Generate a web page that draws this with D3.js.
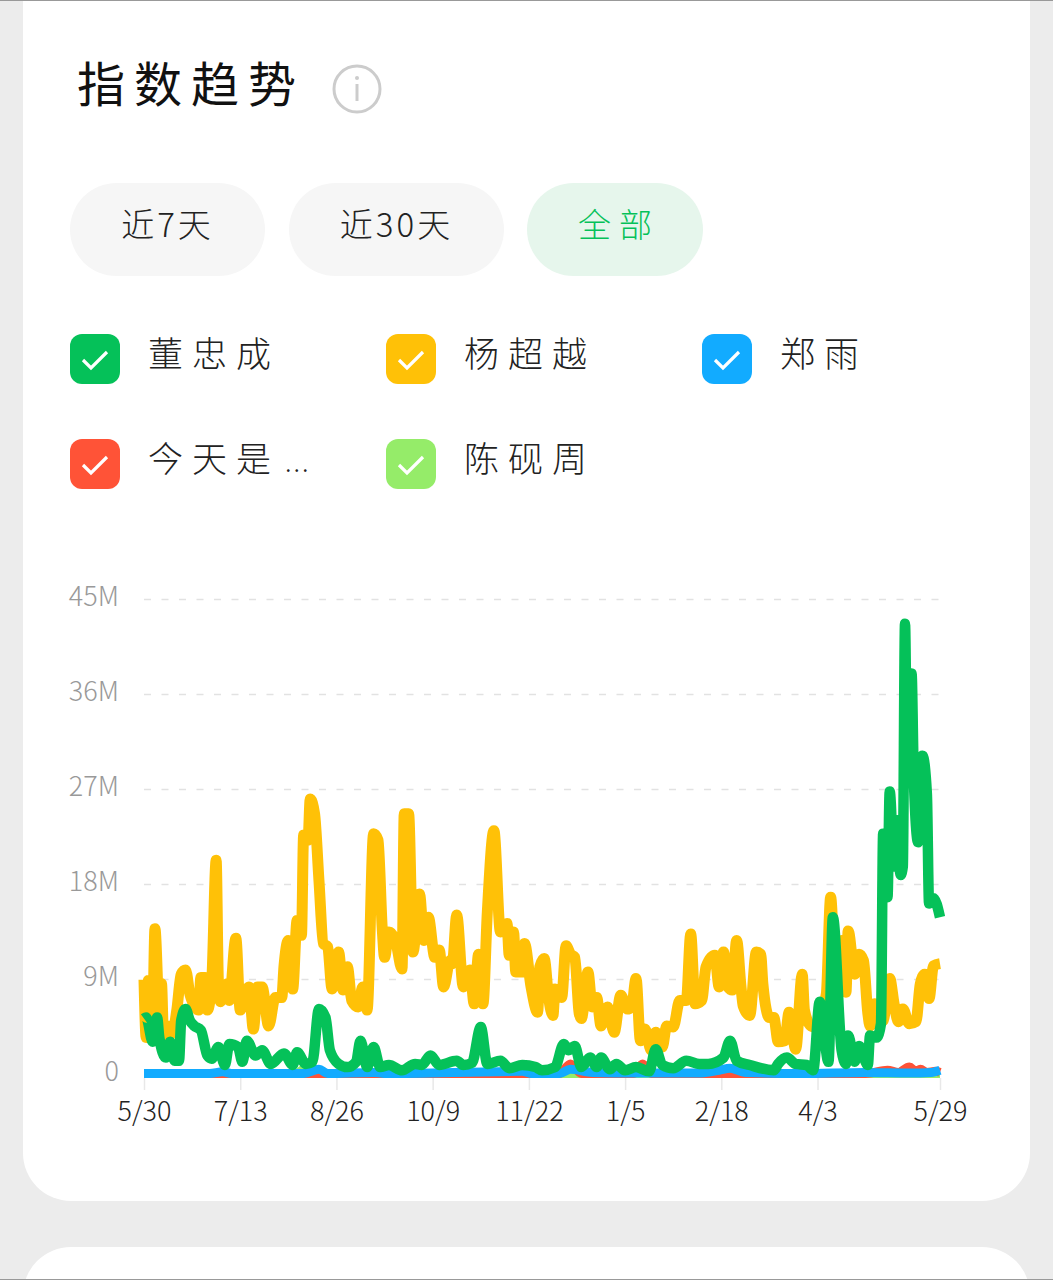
<!DOCTYPE html>
<html lang="zh">
<head>
<meta charset="utf-8">
<script src="https://cdn.jsdelivr.net/npm/d3@7/dist/d3.min.js"></script>
<style>
  html, body { margin: 0; padding: 0; background: #ececec; }
  svg { display: block; }
  text { font-family: "Noto Sans CJK SC", "Noto Sans", sans-serif; }
</style>
</head>
<body>
<svg id="page" width="1053" height="1280"></svg>
<script>
// Search-index trend card: five people, one year of daily readings in millions.
const title = "指数趋势";
const rangeButtons = ["近7天", "近30天", "全部"];
const names = ["董忠成", "杨超越", "郑雨", "今天是", "陈砚周"];
const truncated = [false, false, false, true, false];
const colors = ["#05C159", "#FFC107", "#12ABFF", "#FF5337", "#95EC69"];

const yTicks = [0, 9, 18, 27, 36, 45];
const yTickLabels = ["0", "9M", "18M", "27M", "36M", "45M"];
const xTicks = [0, 44, 88, 132, 176, 220, 264, 308, 364];
const xTickLabels = ["5/30", "7/13", "8/26", "10/9", "11/22", "1/5", "2/18", "4/3", "5/29"];

const dongDays = [0,1,4,6,7,10,12,14,16,17,19,21,23,26,29,31,34,37,39,43,45,47,51,54,58,64,68,70,74,77,80,83,85,89,93,97,99,102,105,108,112,118,124,127,131,135,143,146,150,154,157,163,167,173,179,182,188,192,194,197,200,204,207,209,213,216,220,225,231,234,237,242,248,254,258,265,268,271,277,288,290,294,298,303,306,309,313,315,319,321,322,325,327,331,332,335,337,338,340,341,343,344,346,347,348,349,351,352,354,356,358,359,361,364];
const dongValues = [5.3,5.4,3.1,5.4,3.5,1.6,3.1,1.3,1.3,5.1,6.2,5.1,4.6,4.2,1.8,1.5,2.6,0.9,2.9,2.6,1.2,3.2,1.8,2.3,1.0,2.0,0.9,2.1,1.0,1.2,6.2,5.4,2.3,1.0,0.7,1.2,3.2,0.7,2.6,0.7,0.9,0.4,1.0,0.9,1.8,0.9,1.3,0.9,1.1,4.5,1.0,1.3,0.6,0.9,0.7,0.4,0.7,2.9,2.3,2.7,0.7,1.6,0.7,1.6,0.5,1.0,0.4,0.7,0.3,2.4,0.9,0.6,1.3,1.0,1.0,1.6,3.2,1.3,0.9,0.4,1.0,1.6,1.0,0.9,0.4,6.9,1.2,14.9,2.3,1.0,3.7,1.2,2.7,0.9,3.7,3.5,4.8,22.8,16.8,26.8,19.7,24.1,18.9,19.7,42.7,28.5,38.0,28.2,22.0,30.2,26.6,16.2,16.7,14.9];

const yangDays = [0,1,2,4,5,7,8,9,11,13,15,17,19,21,25,26,28,29,31,33,34,35,38,39,42,44,48,50,52,54,57,60,63,64,66,68,70,72,73,75,76,78,80,82,84,86,89,91,93,95,98,100,102,105,107,109,110,112,115,118,119,121,123,126,128,130,133,135,137,140,141,143,146,149,151,153,155,157,160,163,166,167,169,170,173,174,177,180,181,183,185,187,188,191,193,195,197,199,200,203,205,207,209,212,215,218,221,223,225,227,229,232,234,237,239,242,245,248,250,252,255,257,261,263,265,267,269,271,273,274,277,280,282,283,286,288,290,293,295,298,301,302,305,307,312,314,316,319,321,322,325,327,329,331,332,334,335,338,341,343,345,347,350,353,355,357,359,361,364];
const yangValues = [9.0,3.5,8.9,5.8,13.8,5.8,8.6,3.2,4.6,3.9,6.1,9.5,9.9,7.6,6.1,9.2,9.2,6.1,8.9,20.3,8.9,6.9,8.6,7.0,12.9,6.1,8.3,4.3,8.3,8.3,4.6,7.3,7.3,10.2,12.7,8.1,14.6,13.2,22.7,22.2,26.1,24.7,18.4,12.4,12.1,8.1,11.6,8.0,10.2,7.0,6.4,8.3,6.1,22.8,22.2,13.6,11.1,13.5,12.7,10.0,24.7,24.7,11.6,17.1,12.7,14.9,11.1,11.8,8.3,10.8,10.5,15.1,8.3,9.9,6.7,11.4,6.7,15.4,23.1,13.5,14.3,11.3,13.5,9.7,9.7,12.4,8.3,5.9,10.2,11.0,7.3,5.6,8.1,7.3,12.2,11.4,11.1,5.8,5.3,9.7,6.4,7.3,4.6,6.4,4.0,7.5,6.2,6.4,9.1,3.2,4.3,2.3,4.0,2.6,4.6,4.5,7.0,7.0,13.3,6.7,7.0,10.2,11.3,8.3,11.6,8.3,8.0,12.7,8.3,6.5,5.6,11.6,11.4,8.6,5.4,5.4,3.1,3.2,5.9,2.4,9.5,6.1,4.6,4.5,7.6,16.8,10.2,12.7,7.8,13.6,9.5,11.4,10.8,5.8,4.6,6.7,4.8,5.1,9.1,6.7,5.0,6.2,4.8,5.0,8.6,9.5,7.2,10.3,10.5];

const zhengDays = [0,30,36,40,73,80,84,105,110,173,177,190,195,205,225,240,255,263,268,275,300,330,350,360,364];
const zhengValues = [0.1,0.1,0.25,0.1,0.1,0.5,0.1,0.2,0.1,0.3,0.1,0.1,0.5,0.2,0.15,0.15,0.15,0.4,0.6,0.2,0.1,0.2,0.15,0.2,0.4];

const jinDays = [0,100,105,110,170,174,178,190,195,200,224,228,232,280,300,330,340,345,350,353,355,358,362,364];
const jinValues = [0.1,0.1,0.1,0.1,0.1,0.1,0.1,0.1,1.0,0.1,0.1,1.0,0.1,0.1,0.1,0.1,0.4,0.2,0.7,0.3,0.5,0.2,0.3,0.2];

const chenDays = [0,70,73,76,200,202,205,260,268,275,364];
const chenValues = [0.1,0.1,0.5,0.1,0.1,0.3,0.1,0.1,0.2,0.1,0.1];

// Painted back to front: the first-named person stays on top of the others.
const seriesOrder = [
  { name: names[4], color: colors[4], days: chenDays, values: chenValues, width: 9 },
  { name: names[3], color: colors[3], days: jinDays, values: jinValues, width: 9 },
  { name: names[2], color: colors[2], days: zhengDays, values: zhengValues, width: 9 },
  { name: names[1], color: colors[1], days: yangDays, values: yangValues, width: 11 },
  { name: names[0], color: colors[0], days: dongDays, values: dongValues, width: 10.5 }
];

const svg = d3.select("#page");

// Card backgrounds and the thin rules at the window edges
svg.append("rect").attr("width", 1053).attr("height", 1280).attr("fill", "#ececec");
svg.append("rect").attr("x", 23).attr("y", -60).attr("width", 1007).attr("height", 1261).attr("rx", 48).attr("fill", "#fff");
svg.append("rect").attr("x", 23).attr("y", 1247).attr("width", 1007).attr("height", 120).attr("rx", 48).attr("fill", "#fff");
svg.append("rect").attr("width", 1053).attr("height", 1).attr("fill", "#999");
svg.append("rect").attr("y", 1279).attr("width", 1053).attr("height", 1).attr("fill", "#999");

// Heading with the info badge
svg.append("text").attr("x", 77).attr("y", 102).attr("font-size", 48).attr("letter-spacing", 9).attr("fill", "#111").text(title);
const info = svg.append("g").attr("transform", "translate(357,89)");
info.append("circle").attr("r", 23).attr("fill", "none").attr("stroke", "#ccc").attr("stroke-width", 3);
info.append("circle").attr("cy", -11).attr("r", 2).attr("fill", "#ccc");
info.append("line").attr("y1", -5).attr("y2", 12).attr("stroke", "#ccc").attr("stroke-width", 3);

// Range selector pills
const pillBoxes = [[70, 195], [289, 215], [527, 176]];
const pills = svg.selectAll(".pill").data(rangeButtons).join("g").attr("class", "pill")
  .attr("transform", (d, i) => `translate(${pillBoxes[i][0]},183)`);
pills.append("rect").attr("width", (d, i) => pillBoxes[i][1]).attr("height", 93).attr("rx", 46.5)
  .attr("fill", (d, i) => i === 2 ? "#e6f6ec" : "#f6f6f6");
pills.append("text").attr("x", (d, i) => pillBoxes[i][1] / 2 + (i === 2 ? 4 : 0)).attr("y", 54)
  .attr("text-anchor", "middle").attr("font-size", 33).attr("letter-spacing", (d, i) => i === 2 ? 8 : 3)
  .attr("font-weight", 300)
  .attr("fill", (d, i) => i === 2 ? "#05C159" : "#222").text(d => d);

// Legend: three columns, two rows of checked boxes
const legendX = [70, 386, 702];
const legendY = [334, 439];
const legend = svg.selectAll(".legend").data(names).join("g").attr("class", "legend")
  .attr("transform", (d, i) => `translate(${legendX[i % 3]},${legendY[Math.floor(i / 3)]})`);
legend.append("rect").attr("width", 50).attr("height", 50).attr("rx", 12).attr("fill", (d, i) => colors[i]);
legend.append("path").attr("d", "M13 26 L21 34 L37 18").attr("fill", "none").attr("stroke", "#fff").attr("stroke-width", 3.2);
const legendText = legend.append("text").attr("x", 78).attr("y", 33).attr("font-size", 35).attr("letter-spacing", 9).attr("font-weight", 300)
  .attr("fill", "#222").text(d => d);
// The long name is cut short with a tightly set ellipsis
legendText.filter((d, i) => truncated[i]).append("tspan")
  .attr("dx", 5).attr("font-size", 26).attr("letter-spacing", 2).text("...");

// Scales and axes
const x = d3.scaleLinear().domain([0, 364]).range([144, 940]);
const y = d3.scaleLinear().domain([0, 45]).range([1074.5, 599.5]);

const yAxis = svg.append("g").attr("transform", "translate(144,0)")
  .call(d3.axisLeft(y).tickValues(yTicks).tickSize(0).tickPadding(25)
    .tickFormat((d, i) => yTickLabels[i]));
yAxis.select(".domain").remove();
yAxis.selectAll("text").attr("font-size", 27).attr("font-weight", 300).attr("fill", "#999")
  .attr("y", -3).attr("font-family", '"Noto Sans CJK SC", sans-serif');

const grid = svg.append("g");
grid.selectAll("line").data(yTicks.slice(1)).join("line")
  .attr("x1", x(0)).attr("x2", x(364)).attr("y1", d => y(d)).attr("y2", d => y(d))
  .attr("stroke", "#e2e2e2").attr("stroke-width", 1.5).attr("stroke-dasharray", "7 10.5");

const xAxis = svg.append("g").attr("transform", "translate(0,1078)")
  .call(d3.axisBottom(x).tickValues(xTicks).tickSize(12).tickPadding(12)
    .tickFormat((d, i) => xTickLabels[i]));
xAxis.select(".domain").remove();
xAxis.selectAll("line").attr("stroke", "#e8e8e8").attr("stroke-width", 1.5);
xAxis.selectAll("text").attr("font-size", 27).attr("font-weight", 300).attr("fill", "#222")
  .attr("font-family", '"Noto Sans CJK SC", sans-serif');

// One thick smoothed line per person
const line = d3.line().x(d => x(d[0])).y(d => y(d[1])).curve(d3.curveMonotoneX);
svg.append("g").selectAll("path").data(seriesOrder).join("path")
  .attr("d", s => line(s.days.map((day, i) => [day, s.values[i]])))
  .attr("fill", "none").attr("stroke", s => s.color).attr("stroke-width", s => s.width)
  .attr("stroke-linejoin", "round").attr("stroke-linecap", "butt");
</script>
</body>
</html>
